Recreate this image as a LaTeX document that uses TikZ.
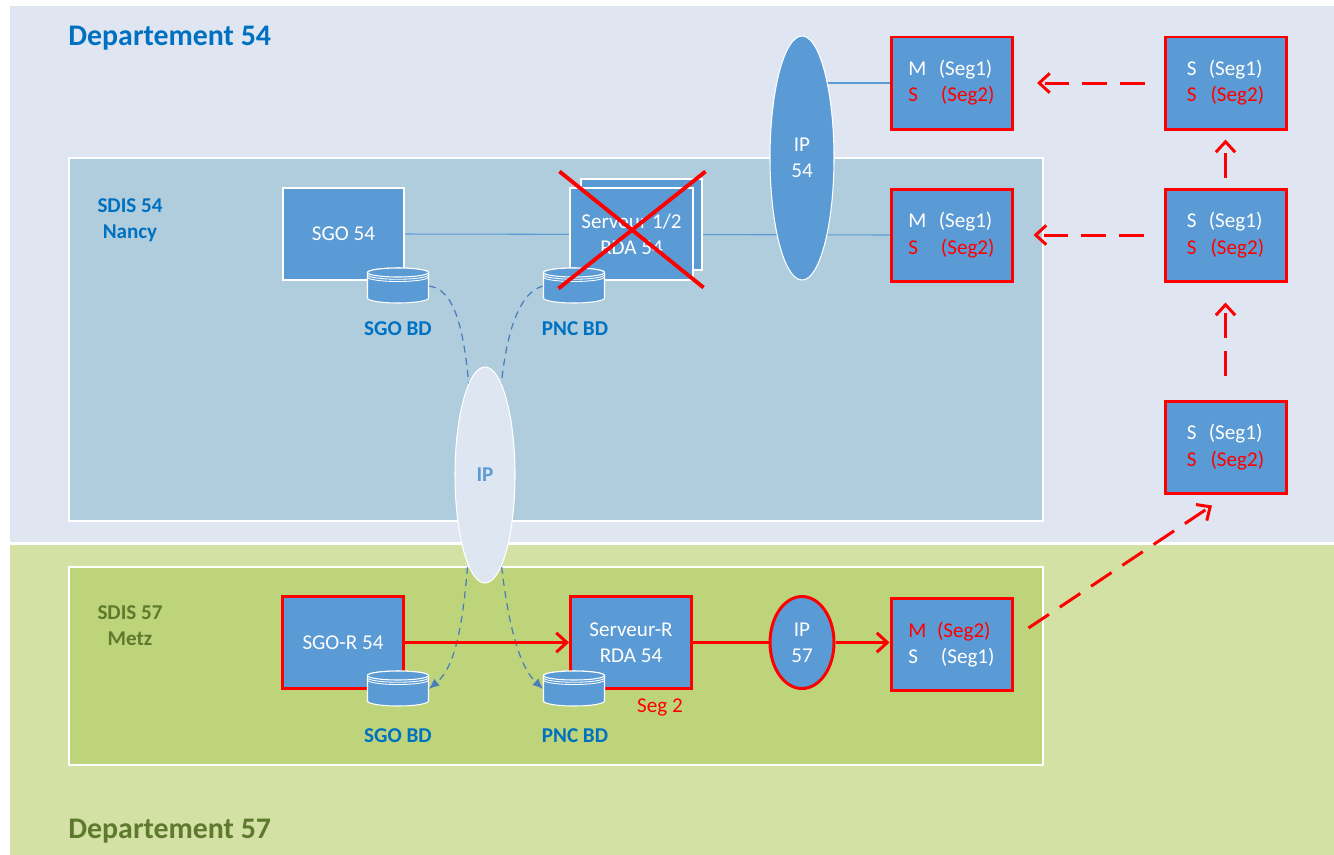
\documentclass[tikz,border=0pt]{standalone}
\usepackage{fontspec}
\setmainfont{Carlito}
\usetikzlibrary{shapes.geometric, arrows.meta, positioning, calc}
\definecolor{deptblue}{RGB}{223, 230, 242}
\definecolor{sdisblue}{RGB}{175, 205, 221}
\definecolor{deptgreen}{RGB}{211, 225, 164}
\definecolor{sdisgreen}{RGB}{189, 212, 122}
\definecolor{boxblue}{RGB}{91, 155, 213}
\definecolor{titleblue}{RGB}{0, 112, 192}
\definecolor{olivetext}{RGB}{94, 122, 45}
\definecolor{segred}{RGB}{255, 0, 0}
\definecolor{ipfill}{RGB}{222, 230, 242}
\definecolor{dashblue}{RGB}{74, 126, 187}
\pgfdeclarelayer{background}
\pgfdeclarelayer{links}
\pgfsetlayers{background,links,main}
\tikzset{
    region/.style={
        draw=white,
        line width=0.8pt
    },
    server/.style={
        rectangle,
        minimum width=2.42cm,
        minimum height=1.84cm,
        inner sep=0pt,
        draw=white,
        line width=0.6pt,
        fill=boxblue,
        text=white,
        align=center,
        font=\fontsize{12}{14.7}\selectfont
    },
    redserver/.style={
        server,
        draw=segred,
        line width=1.7pt
    },
    segbox/.style={
        redserver,
        align=left,
        font=\fontsize{12}{14.9}\selectfont
    },
    ipcloud/.style={
        ellipse,
        inner sep=0pt,
        draw=white,
        line width=0.6pt,
        fill=boxblue,
        text=white,
        align=center,
        font=\fontsize{12}{14.7}\selectfont
    },
    dbspot/.style={
        rectangle,
        minimum width=1.22cm,
        minimum height=0.74cm,
        inner sep=0pt
    },
    dbshape/.style={
        draw=white,
        line width=0.6pt,
        fill=boxblue
    },
    dblabel/.style={
        font=\bfseries\fontsize{12}{14.7}\selectfont,
        text=titleblue
    },
    sitelabel/.style={
        font=\bfseries\fontsize{12}{14.7}\selectfont,
        align=center
    },
    title/.style={
        font=\bfseries\fontsize{17}{20}\selectfont,
        inner sep=0pt,
        anchor=west
    },
    link/.style={
        draw=boxblue,
        line width=0.6pt
    },
    dblink/.style={
        draw=dashblue,
        line width=0.7pt,
        dash pattern=on 4pt off 3pt
    },
    redline/.style={
        draw=segred,
        line width=1.7pt
    },
    redarrow/.style={
        redline,
        -{Straight Barb[length=6pt, width=11pt]}
    },
    redflow/.style={
        redarrow,
        dash pattern=on 14pt off 7.4pt
    },
    crossout/.style={
        draw=segred,
        line width=2.2pt
    }
}
% database drawn over a named spot
\newcommand{\database}[2]{%
    \node[dbspot] (#1) at (#2) {};
    \begin{scope}[shift={(#1.center)}]
        \path[dbshape] (-0.61,0.27) -- (-0.61,-0.24)
            arc[start angle=180, end angle=360, x radius=0.61, y radius=0.1]
            -- (0.61,0.27)
            arc[start angle=0, end angle=180, x radius=0.61, y radius=0.09] -- cycle;
        \path[dbshape] (0,0.27) ellipse[x radius=0.61, y radius=0.09];
        \foreach \k in {1,2}
            \draw[white, line width=0.5pt] (-0.61,0.27-0.045*\k)
                arc[start angle=180, end angle=360, x radius=0.61, y radius=0.09];
    \end{scope}}

\begin{document}
\begin{tikzpicture}

    \useasboundingbox (0,0) rectangle (26.68,-17.08);

    % Department and site areas
    \begin{pgfonlayer}{background}
        \fill[white] (0,0) rectangle (26.68,-17.08);
        \path[region, fill=deptblue] (0.18,-0.1) rectangle (26.75,-10.86);
        \path[region, fill=deptgreen] (0.18,-10.88) rectangle (26.75,-17.2);
        \path[region, fill=sdisblue] (1.38,-3.16) rectangle (20.86,-10.42);
        \path[region, fill=sdisgreen] (1.38,-11.34) rectangle (20.86,-15.3);
    \end{pgfonlayer}

    % Titles
    \node[title, text=titleblue] (dept54) at (1.36,-0.76) {Departement 54};
    \node[title, text=olivetext] (dept57) at (1.36,-16.62) {Departement 57};
    \node[sitelabel, text=titleblue] (sdis54) at (2.6,-4.4) {SDIS 54\\Nancy};
    \node[sitelabel, text=olivetext] (sdis57) at (2.6,-12.52) {SDIS 57\\Metz};

    % SDIS 54 servers
    \node[server] (sgo54) at (6.87,-4.68) {SGO 54};
    \node[server, minimum height=1.82cm] (srvback) at (12.83,-4.49) {};
    \node[server, minimum width=2.46cm] (srv54) at (12.63,-4.68) {Serveur 1/2\\RDA 54};
    \database{sgobd}{7.96,-5.72}
    \database{pncbd}{11.48,-5.72}
    \node[dblabel] (sgobdlabel) at (7.96,-6.58) {SGO BD};
    \node[dblabel] (pncbdlabel) at (11.5,-6.58) {PNC BD};
    \draw[crossout] ([shift={(-0.2,0.32)}]srv54.north west) -- ([shift={(0.2,-0.14)}]srv54.south east);
    \draw[crossout] ([shift={(0.24,0.32)}]srv54.north east) -- ([shift={(-0.22,-0.16)}]srv54.south west);

    % IP links
    \node[ipcloud, minimum width=1.28cm, minimum height=4.88cm] (ip54) at (16.04,-3.16) {IP\\54};
    \node[ipcloud, fill=ipfill, text=boxblue, font=\bfseries\fontsize{12}{14.7}\selectfont,
          minimum width=1.2cm, minimum height=4.32cm] (ip) at (9.7,-9.5) {IP};
    \node[ipcloud, draw=segred, line width=1.7pt, minimum width=1.28cm, minimum height=1.84cm] (ip57) at (16.04,-12.85) {IP\\57};

    % Segment boxes
    \node[segbox] (m1) at (19.03,-1.66) {M\hspace{7pt}(Seg1)\\\textcolor{segred}{S\hspace{13pt}(Seg2)}};
    \node[segbox] (m2) at (19.03,-4.70) {M\hspace{7pt}(Seg1)\\\textcolor{segred}{S\hspace{13pt}(Seg2)}};
    \node[segbox] (s1) at (24.51,-1.66) {S\hspace{7pt}(Seg1)\\\textcolor{segred}{S\hspace{8pt}(Seg2)}};
    \node[segbox] (s2) at (24.51,-4.70) {S\hspace{7pt}(Seg1)\\\textcolor{segred}{S\hspace{8pt}(Seg2)}};
    \node[segbox] (s3) at (24.51,-8.94) {S\hspace{7pt}(Seg1)\\\textcolor{segred}{S\hspace{8pt}(Seg2)}};
    \node[segbox] (mb) at (19.03,-12.89) {\textcolor{segred}{M\hspace{6pt}(Seg2)}\\S\hspace{13pt}(Seg1)};

    % SDIS 57 servers
    \node[redserver] (sgor) at (6.86,-12.85) {SGO-R 54};
    \node[redserver] (srvr) at (12.62,-12.85) {Serveur-R\\RDA 54};
    \database{sgobdb}{7.96,-13.78}
    \database{pncbdb}{11.48,-13.78}
    \node[dblabel] (sgobdblabel) at (7.96,-14.72) {SGO BD};
    \node[dblabel] (pncbdblabel) at (11.5,-14.72) {PNC BD};
    \node[text=segred, font=\fontsize{12}{14.7}\selectfont] (seg2) at (13.2,-14.14) {Seg 2};

    % Links behind the nodes
    \begin{pgfonlayer}{links}
        \draw[link] (sgo54.east) -- (m2.west);
        \draw[link] (ip54.center |- m1.west) -- (m1.west);
        \draw[dblink] (sgobd.east) .. controls (9.1,-5.78) and (9.3,-6.6) .. (9.4,-8.0);
        \draw[dblink] (pncbd.west) .. controls (10.4,-5.84) and (10.1,-6.6) .. (10.0,-8.0);
        \draw[dblink, -{Latex[length=6pt, width=5pt]}] (9.4,-10.6) .. controls (9.3,-12.3) and (9.15,-13.3) .. (sgobdb.east);
        \draw[dblink, -{Latex[length=6pt, width=5pt]}] (9.96,-10.6) .. controls (10.1,-12.3) and (10.35,-13.3) .. (pncbdb.west);
    \end{pgfonlayer}

    % Replication flows
    \draw[redarrow] (sgor.east) -- (srvr.west);
    \draw[redline] (srvr.east) -- (ip57.west);
    \draw[redarrow] (ip57.east) -- (ip57.east -| mb.west);
    \draw[redflow, shorten <=0.38cm, shorten >=0.47cm] (s1.west) -- (m1.east);
    \draw[redflow, shorten <=0.4cm, shorten >=0.4cm] (s2.west) -- (m2.east);
    \draw[redflow, shorten <=0.2cm, shorten >=0.18cm] (s2.north) -- (s1.south);
    \draw[redflow, shorten <=0.48cm, shorten >=0.4cm] (s3.north) -- (s2.south);
    \draw[redflow] ([shift={(0.3,0.33)}]mb.east) -- ([shift={(-0.27,-0.22)}]s3.south);

\end{tikzpicture}
\end{document}
